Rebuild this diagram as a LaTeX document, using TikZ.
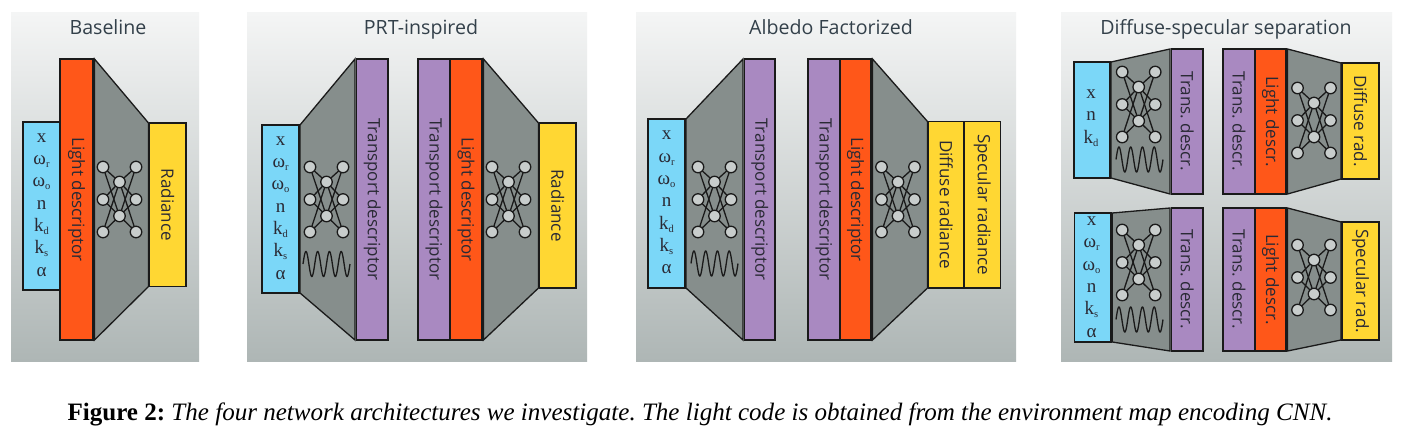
\documentclass[tikz,border=0pt]{standalone}
\usepackage{fontspec}
\setmainfont{Liberation Serif}
\newfontfamily\labfont{Open Sans}
\definecolor{cblue}{HTML}{7BD7F8}
\definecolor{corange}{HTML}{FF5719}
\definecolor{cgray}{HTML}{868E8C}
\definecolor{cyellow}{HTML}{FFD733}
\definecolor{cpurple}{HTML}{A989C1}
\definecolor{cnode}{HTML}{C8CDCC}
\definecolor{cline}{HTML}{1A1A1A}
\definecolor{ctext}{HTML}{2A2A35}
\definecolor{ctitle}{HTML}{33404A}
\definecolor{ptop}{HTML}{F4F5F5}
\definecolor{pbot}{HTML}{AEB6B5}
\tikzset{
  panelbg/.style={draw=none,shading=axis,top color=ptop,bottom color=pbot},
  boxst/.style={draw=cline,line width=1.5pt,inner sep=0pt,outer sep=0pt},
  trapst/.style={draw=cline,line width=1.3pt,fill=cgray,line join=miter},
  netnode/.style={circle,draw=cline,line width=1.3pt,fill=cnode,minimum size=11.5pt,inner sep=0pt,outer sep=0pt},
  netedge/.style={draw=cline,line width=1.3pt},
  wavest/.style={draw=cline,line width=1.3pt},
  vlab/.style={rotate=-90,font=\labfont\frenchspacing\fontsize{17}{18}\selectfont,text=ctext,inner sep=0pt},
  paneltitle/.style={anchor=base,font=\labfont\fontsize{19.6}{20}\selectfont,text=ctitle,inner sep=0pt},
  inlab/.style={align=center,font=\fontsize{19}{22.3}\selectfont,text=ctext,inner sep=0pt}
}
\newcommand{\sbs}[1]{\raisebox{-3pt}{\fontsize{10.5}{10.5}\selectfont #1}}
% name, colour, x0, y0, x1, y1, text
\newcommand{\bx}[7]{%
  \pgfmathsetmacro{\bxw}{#5-#3}\pgfmathsetmacro{\bxh}{#6-#4}%
  \node[boxst,fill=#2,minimum width=\bxw pt,minimum height=\bxh pt] (#1) at ({(#3+#5)/2},{(#4+#6)/2}) {};%
  \node[vlab] (#1t) at (#1.center) {#7};}
% prefix, centre x, centre y
\newcommand{\netw}[3]{%
  \foreach \nn/\dx/\dy in {a/-16.5/-32.5,b/-16.5/0,c/-16.5/32.5,d/16.5/-32.5,e/16.5/0,f/16.5/32.5,g/0/-17.5,h/0/16.5}
    {\node[netnode] (#1\nn) at ({#2+\dx},{#3+\dy}) {};}
  \foreach \p in {a,b,c,d,e,f} \foreach \q in {g,h}
    {\draw[netedge] (#1\p) -- (#1\q);}}
% centre x of wave, centre y
\newcommand{\wav}[2]{\draw[wavest,domain=-23.5:23.5,samples=121,smooth,variable=\wx] plot ({#1+\wx},{#2-12.5*sin(30.638*(\wx+23.5))});}
\begin{document}
\begin{tikzpicture}[x=1pt,y=-1pt]
\useasboundingbox (0,0) rectangle (1403,441);
\fill[white] (0,0) rectangle (1403,441);
% panels
\shade[panelbg] (11,13) rectangle (199,361);
\shade[panelbg] (247,13) rectangle (587,361);
\shade[panelbg] (636,13) rectangle (1016,361);
\shade[panelbg] (1061,13) rectangle (1392,361);
\node[paneltitle] (t1) at (108,35) {Baseline};
\node[paneltitle] (t2) at (421,35) {PRT-inspired};
\node[paneltitle] (t3) at (831,35) {Albedo Factorized};
\node[paneltitle] (t4) at (1226,35) {Diffuse-specular separation};
% Baseline
\node[boxst,fill=cblue,minimum width=37pt,minimum height=168pt] (a1) at (41.5,206) {};
\node[inlab] (a1t) at (41.5,205) {x\\ω\sbs{r}\\ω\sbs{o}\\n\\k\sbs{d}\\k\sbs{s}\\α};
\bx{a2}{corange}{60}{59}{93}{340}{Light descriptor}
\bx{a3}{cyellow}{149.5}{123}{186}{286.5}{Radiance}
\draw[trapst] ([xshift=1.5pt]a2.north east) -- ([xshift=-1pt]a3.north west) -- ([xshift=-1pt]a3.south west) -- ([xshift=1.5pt]a2.south east) -- cycle;
\netw{an}{119.5}{199.5}
% PRT-inspired
\node[boxst,fill=cblue,minimum width=37pt,minimum height=168pt] (b1) at (280.5,209) {};
\node[inlab] (b1t) at (280.5,208) {x\\ω\sbs{r}\\ω\sbs{o}\\n\\k\sbs{d}\\k\sbs{s}\\α};
\bx{b2}{cpurple}{356.5}{59}{388}{340}{Transport descriptor}
\draw[trapst] ([xshift=1pt]b1.north east) -- ([xshift=-1.5pt]b2.north west) -- ([xshift=-1.5pt]b2.south west) -- ([xshift=1pt]b1.south east) -- cycle;
\netw{bn}{326.5}{199.5}
\wav{326.5}{264}
\bx{b3}{cpurple}{418}{59}{450}{340}{Transport descriptor}
\bx{b4}{corange}{450}{59}{482}{340}{Light descriptor}
\bx{b5}{cyellow}{539.5}{123}{576}{288}{Radiance}
\draw[trapst] ([xshift=1.5pt]b4.north east) -- ([xshift=-1pt]b5.north west) -- ([xshift=-1pt]b5.south west) -- ([xshift=1.5pt]b4.south east) -- cycle;
\netw{bm}{508.5}{199.5}
% Albedo Factorized
\node[boxst,fill=cblue,minimum width=37pt,minimum height=169pt] (c1) at (666.5,203.5) {};
\node[inlab] (c1t) at (666.5,202.5) {x\\ω\sbs{r}\\ω\sbs{o}\\n\\k\sbs{d}\\k\sbs{s}\\α};
\bx{c2}{cpurple}{744.5}{59}{775}{340}{Transport descriptor}
\draw[trapst] ([xshift=1pt]c1.north east) -- ([xshift=-1.5pt]c2.north west) -- ([xshift=-1.5pt]c2.south west) -- ([xshift=1pt]c1.south east) -- cycle;
\netw{cn}{714.5}{199.5}
\wav{714.5}{263.5}
\bx{c3}{cpurple}{808}{59}{840}{340}{Transport descriptor}
\bx{c4}{corange}{840}{59}{871}{340}{Light descriptor}
\bx{c5}{cyellow}{928.5}{121.5}{964}{288}{Diffuse radiance}
\bx{c6}{cyellow}{964}{121.5}{1000.5}{288}{Specular radiance}
\draw[trapst] ([xshift=1.5pt]c4.north east) -- ([xshift=-1pt]c5.north west) -- ([xshift=-1pt]c5.south west) -- ([xshift=1.5pt]c4.south east) -- cycle;
\netw{cm}{898}{199.5}
% Diffuse-specular: top row
\node[boxst,fill=cblue,minimum width=36pt,minimum height=116pt] (d1) at (1092,120) {};
\node[inlab] (d1t) at (1091,118) {x\\n\\k\sbs{d}};
\bx{d2}{cpurple}{1171.5}{49}{1203}{194}{Trans. descr.}
\draw[trapst] ([xshift=1pt]d1.north east) -- ([xshift=-1.5pt]d2.north west) -- ([xshift=-1.5pt]d2.south west) -- ([xshift=1pt]d1.south east) -- cycle;
\netw{dn}{1138.7}{104.5}
\wav{1139.5}{159.5}
\bx{d3}{cpurple}{1223}{49}{1255}{194}{Trans. descr.}
\bx{d4}{corange}{1255}{49}{1286}{194}{Light descr.}
\bx{d5}{cyellow}{1342}{63}{1379}{179}{Diffuse rad.}
\draw[trapst] ([xshift=1.5pt]d4.north east) -- ([xshift=-1pt]d5.north west) -- ([xshift=-1pt]d5.south west) -- ([xshift=1.5pt]d4.south east) -- cycle;
\netw{dm}{1314}{120.5}
% Diffuse-specular: bottom row
\node[boxst,fill=cblue,minimum width=36.5pt,minimum height=129pt] (e1) at (1092.5,277.5) {};
\node[inlab] (e1t) at (1091.5,277) {x\\ω\sbs{r}\\ω\sbs{o}\\n\\k\sbs{s}\\α};
\bx{e2}{cpurple}{1171.5}{208}{1203}{351}{Trans. descr.}
\draw[trapst] ([xshift=1.5pt]e1.north east) -- ([xshift=-1.5pt]e2.north west) -- ([xshift=-1.5pt]e2.south west) -- ([xshift=1.5pt]e1.south east) -- cycle;
\netw{en}{1138.7}{262.5}
\wav{1139.5}{319.5}
\bx{e3}{cpurple}{1223}{208}{1255}{351}{Trans. descr.}
\bx{e4}{corange}{1255}{208}{1286}{351}{Light descr.}
\bx{e5}{cyellow}{1342}{222}{1379}{340}{Specular rad.}
\draw[trapst] ([xshift=1.5pt]e4.north east) -- ([xshift=-1pt]e5.north west) -- ([xshift=-1pt]e5.south west) -- ([xshift=1.5pt]e4.south east) -- cycle;
\netw{em}{1314}{277.5}
% caption
\node[inner sep=0pt,font=\frenchspacing\fontsize{25.05}{26}\selectfont] (cap) at (700,414) {\textbf{Figure 2:} \textit{The four network architectures we investigate. The light code is obtained from the environment map encoding CNN.}};
\end{tikzpicture}
\end{document}
